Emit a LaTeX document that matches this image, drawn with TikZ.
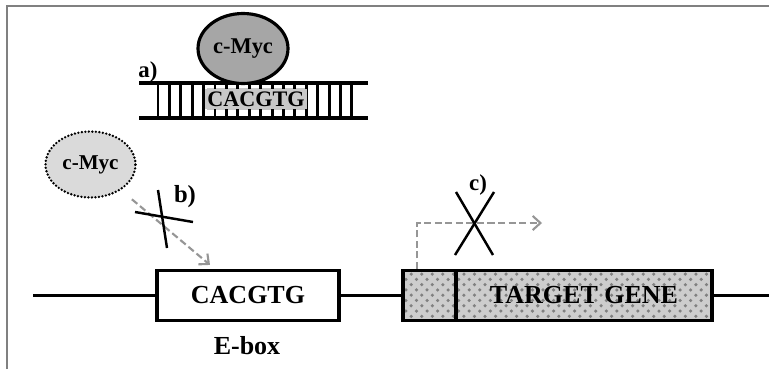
\documentclass[tikz,border=0pt]{standalone}
\usepackage{fontspec}
\setmainfont{Liberation Serif}
\usetikzlibrary{arrows.meta, calc, positioning, shapes.geometric, patterns}
\definecolor{framecol}{RGB}{128,128,128}
\definecolor{mycdark}{RGB}{166,166,166}
\definecolor{myclight}{RGB}{218,218,218}
\definecolor{sitecol}{RGB}{200,200,200}
\definecolor{arrowcol}{RGB}{150,150,150}
\definecolor{genegray}{RGB}{205,205,205}

\begin{document}
\begin{tikzpicture}[
    bigtxt/.style={font=\fontsize{7.4}{8}\selectfont\bfseries},
    smalltxt/.style={font=\fontsize{6.4}{7}\selectfont\bfseries},
    dna/.style={line width=1pt},
    boxnode/.style={draw, line width=0.9pt, rectangle, inner sep=0pt, minimum height=0.5cm},
    genefill/.style={preaction={fill=genegray}, pattern=crosshatch dots, pattern color=black!50},
    mycnode/.style={ellipse, inner sep=0pt, minimum width=0.9cm, smalltxt},
    dasharr/.style={arrowcol, line width=0.6pt, dash pattern=on 2pt off 1pt,
        -{Straight Barb[length=2.2pt, width=4pt]}},
    nogo/.style={line width=0.7pt},
]

\path[use as bounding box] (0,0) rectangle (7.69,3.69);

% ════════════════════════════════════════════════════════
% 0. FRAME
% ════════════════════════════════════════════════════════
\draw[framecol, line width=0.6pt] (0.07,0) -- (0.07,3.63) -- (7.69,3.63);

% ════════════════════════════════════════════════════════
% 1. a) c-Myc sitting on the E-box of the double strand
% ════════════════════════════════════════════════════════
\coordinate (LAD) at (1.39,2.51);

% site shading under the rungs
\fill[sitecol] ($(LAD)+(0.68,0.08)$) rectangle ($(LAD)+(1.66,0.30)$);

% rungs
\foreach \i in {0,...,17}
    \draw[line width=0.85pt] ($(LAD)+({0.19+0.114*\i},0)$) -- ($(LAD)+({0.19+0.114*\i},0.35)$);

% strands
\draw[dna] ($(LAD)+(0,0.35)$) -- ($(LAD)+(2.29,0.35)$);
\draw[dna] (LAD) -- ($(LAD)+(2.29,0)$);

\node[font=\fontsize{6.3}{7}\selectfont\bfseries, fill=sitecol, inner sep=0.6pt]
    (sitetxt) at ($(LAD)+(1.17,0.19)$) {CACGTG};
\node[mycnode, draw, line width=0.9pt, fill=mycdark, minimum height=0.7cm]
    (mycbound) at ($(LAD)+(1.04,0.695)$) {c-Myc};
\node[font=\fontsize{6.5}{7}\selectfont\bfseries] (labA) at ($(LAD)+(0.09,0.46)$) {a)};

% ════════════════════════════════════════════════════════
% 2. GENE: E-box, promoter, target gene
% ════════════════════════════════════════════════════════
\coordinate (lineL) at (0.33,0.735);
\coordinate (lineR) at (7.69,0.735);

\node[boxnode, minimum width=1.82cm, fill=white, bigtxt] (ebox) at (2.48,0.735) {CACGTG};
\node[bigtxt] (eboxlbl) at (2.47,0.23) {E-box};

\node[boxnode, genefill, minimum width=0.53cm] (prom) at (4.295,0.735) {};
\node[boxnode, genefill, minimum width=2.56cm, bigtxt] (gene) at (5.84,0.735) {TARGET GENE};

\draw[dna] (lineL) -- (ebox.west);
\draw[dna] (ebox.east) -- (prom.west);
\draw[dna] (gene.east) -- (lineR);

% ════════════════════════════════════════════════════════
% 3. b) free c-Myc cannot reach the E-box
% ════════════════════════════════════════════════════════
\node[mycnode, draw, line width=0.75pt, dash pattern=on 0pt off 1pt, line cap=round,
    fill=myclight, minimum height=0.66cm, font=\fontsize{6}{7}\selectfont\bfseries]
    (mycfree) at (0.905,2.045) {c-Myc};

\coordinate (bindend) at ($(ebox.north)+(-0.38,0.04)$);
\draw[dasharr, shorten <=4pt] (mycfree) -- (bindend);

\draw[nogo] (1.58,1.79) -- (1.67,1.21);
\draw[nogo] (1.35,1.57) -- (1.93,1.47);
\node[font=\fontsize{7}{8}\selectfont\bfseries] (labB) at (1.85,1.72) {b)};

% ════════════════════════════════════════════════════════
% 4. c) no transcription from the promoter
% ════════════════════════════════════════════════════════
\coordinate (tss) at ($(prom.north west)+(0.16,0)$);
\coordinate (tssend) at (5.42,1.46);
\draw[dasharr] (tss) |- (tssend);

\draw[nogo] (4.56,1.77) -- (4.93,1.14);
\draw[nogo] (4.94,1.77) -- (4.55,1.14);
\node[font=\fontsize{6.5}{7}\selectfont\bfseries] (labC) at (4.78,1.84) {c)};

\end{tikzpicture}
\end{document}
